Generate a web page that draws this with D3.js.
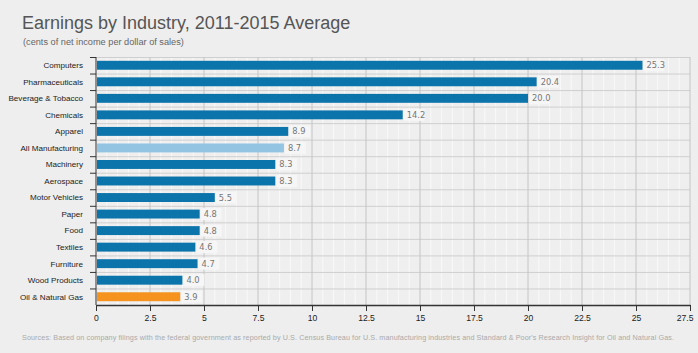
<!DOCTYPE html>
<html>
<head>
<meta charset="utf-8">
<script src="https://cdn.jsdelivr.net/npm/d3@7"></script>
<style>
  body { margin: 0; background: #eeeeee; }
  svg { display: block; font-family: Arial, "Liberation Sans", sans-serif; }
</style>
</head>
<body>
<svg width="698" height="353"></svg>
<script>
const industries = ["Computers", "Pharmaceuticals", "Beverage & Tobacco", "Chemicals", "Apparel",
  "All Manufacturing", "Machinery", "Aerospace", "Motor Vehicles", "Paper", "Food", "Textiles",
  "Furniture", "Wood Products", "Oil & Natural Gas"];
const earnings = [25.3, 20.4, 20.0, 14.2, 8.9, 8.7, 8.3, 8.3, 5.5, 4.8, 4.8, 4.6, 4.7, 4.0, 3.9];
const xTicks = [0, 2.5, 5, 7.5, 10, 12.5, 15, 17.5, 20, 22.5, 25, 27.5];

const svg = d3.select("svg");
const margin = ({top: 57, right: 8, bottom: 48, left: 96});
const width = 698;
const height = 353;

const x = d3.scaleLinear()
    .domain([0, 27.5])
    .range([margin.left, width - margin.right]);
const y = d3.scaleBand()
    .domain(industries)
    .range([margin.top, height - margin.bottom])
    .paddingInner(0.46)
    .paddingOuter(0.23);
const band = d3.scaleBand().domain(industries).range([margin.top, height - margin.bottom]);

const color = d => d === "All Manufacturing" ? "#93c5e3" : d === "Oil & Natural Gas" ? "#f6931e" : "#0b74aa";

// title block
svg.append("text")
    .attr("x", 22).attr("y", 29)
    .attr("fill", "#555").attr("font-size", 18)
    .text("Earnings by Industry, 2011-2015 Average");
svg.append("text")
    .attr("x", 23).attr("y", 45)
    .attr("fill", "#666").attr("font-size", 9.2)
    .text("(cents of net income per dollar of sales)");

// plot background + grid
svg.append("rect")
    .attr("x", margin.left).attr("y", margin.top)
    .attr("width", x(27.5) - margin.left).attr("height", height - margin.bottom - margin.top)
    .attr("fill", "#efefef");

svg.append("g")
    .selectAll("line")
    .data(d3.range(0.5, 27.5, 0.5).filter(v => Math.abs(v / 2.5 - Math.round(v / 2.5)) > 1e-6))
    .join("line")
      .attr("x1", d => x(d)).attr("x2", d => x(d))
      .attr("y1", margin.top).attr("y2", height - margin.bottom)
      .attr("stroke", "#f9f9f9").attr("stroke-width", 1);

svg.append("g")
    .selectAll("line")
    .data(industries)
    .join("line")
      .attr("x1", margin.left).attr("x2", x(27.5))
      .attr("y1", d => band(d) + 0.5).attr("y2", d => band(d) + 0.5)
      .attr("stroke", "#cfcfcf");

svg.append("g")
    .selectAll("line")
    .data(xTicks.slice(1))
    .join("line")
      .attr("x1", d => x(d)).attr("x2", d => x(d))
      .attr("y1", margin.top).attr("y2", height - margin.bottom)
      .attr("stroke", "#c4c4c4");

// bars
svg.append("g")
    .selectAll("rect")
    .data(industries)
    .join("rect")
      .attr("x", x(0) + 1)
      .attr("y", d => y(d))
      .attr("width", (d, i) => x(earnings[i]) - x(0) - 1)
      .attr("height", y.bandwidth())
      .attr("fill", d => color(d));

// value labels
const labels = svg.append("g")
    .selectAll("g")
    .data(industries)
    .join("g")
      .attr("transform", (d, i) => `translate(${x(earnings[i]) + 1},${y(d) + y.bandwidth() / 2})`);
labels.append("rect")
    .attr("y", -6).attr("height", 12).attr("width", 21)
    .attr("fill", "#f6f6f6");
labels.append("text")
    .attr("x", 3).attr("dy", "0.36em")
    .attr("fill", "#777").attr("font-size", 8.3)
    .attr("font-family", "'DejaVu Sans', sans-serif")
    .text((d, i) => earnings[i].toFixed(1));

// left axis
const yAxis = svg.append("g")
    .attr("transform", `translate(${margin.left},0)`);
yAxis.append("line")
    .attr("y1", margin.top).attr("y2", height - margin.bottom)
    .attr("stroke", "#333");
yAxis.selectAll(".tk")
    .data(industries)
    .join("line")
      .attr("class", "tk")
      .attr("x1", -6).attr("x2", 0)
      .attr("y1", d => band(d) + 0.5).attr("y2", d => band(d) + 0.5)
      .attr("stroke", "#333");
yAxis.selectAll("text")
    .data(industries)
    .join("text")
      .attr("x", -13)
      .attr("y", d => band(d) + band.bandwidth() / 2)
      .attr("dy", "0.35em")
      .attr("text-anchor", "end")
      .attr("fill", "#222").attr("font-size", 8.1)
      .text(d => d);

// bottom axis
svg.append("g")
    .attr("transform", `translate(0,${height - margin.bottom})`)
    .call(d3.axisBottom(x).tickValues(xTicks).tickSize(6).tickSizeOuter(0).tickFormat(d3.format("")))
    .call(g => g.select(".domain").attr("stroke", "#333").attr("stroke-width", 1.5))
    .call(g => g.selectAll(".tick line").attr("stroke", "#333"))
    .call(g => g.selectAll(".tick text").attr("fill", "#222").attr("font-size", 8.6)
      .attr("font-family", "Arial, 'Liberation Sans', sans-serif").attr("y", 8).attr("dy", "0.9em"))
    .call(g => g.selectAll(".tick").filter(d => d === 27.5).select("text")
      .attr("text-anchor", "end").attr("x", 3));

svg.append("text")
    .attr("x", 22).attr("y", 340)
    .attr("fill", "#aaa").attr("font-size", 7.2)
    .attr("textLength", 652).attr("lengthAdjust", "spacing")
    .attr("font-family", "Arial, 'Liberation Sans', sans-serif")
    .text("Sources: Based on company filings with the federal government as reported by U.S. Census Bureau for U.S. manufacturing industries and Standard & Poor's Research Insight for Oil and Natural Gas.");
</script>
</body>
</html>
